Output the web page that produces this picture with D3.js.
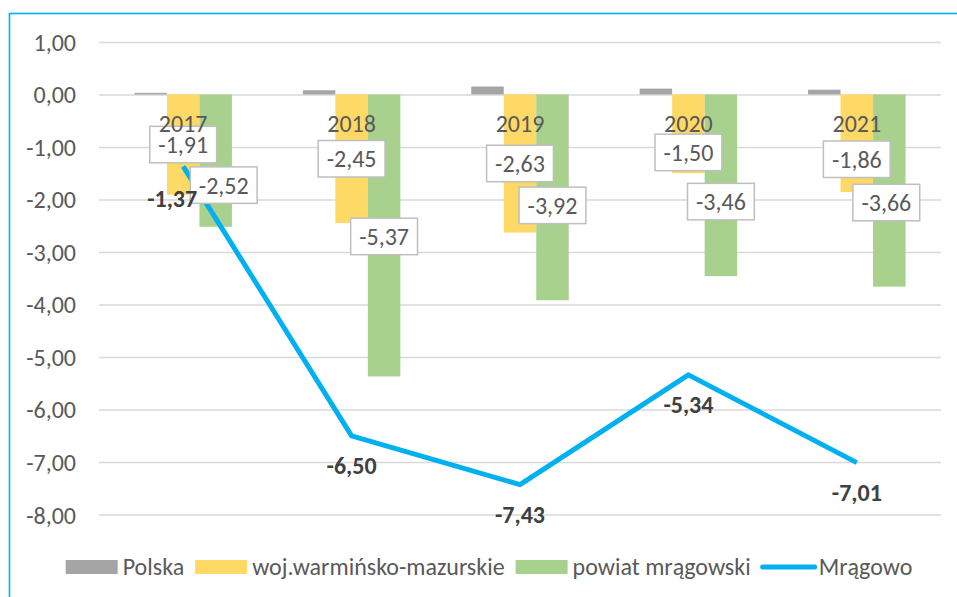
<!DOCTYPE html>
<html>
<head>
<meta charset="utf-8">
<script src="https://cdn.jsdelivr.net/npm/d3@7"></script>
<style>
  html, body { margin: 0; padding: 0; background: #fff; }
  svg { display: block; }
  text { font-family: Carlito, Lato, "Liberation Sans", sans-serif; }
</style>
</head>
<body>
<svg id="chart" width="957" height="597"></svg>
<script>
// ---------- data ----------
const categories = ["2017", "2018", "2019", "2020", "2021"];
const polska = [0.03, 0.08, 0.15, 0.11, 0.09];
const wojewodztwo = [-1.91, -2.45, -2.63, -1.50, -1.86];
const powiat = [-2.52, -5.37, -3.92, -3.46, -3.66];
const mragowo = [-1.37, -6.50, -7.43, -5.34, -7.01];
const yTicks = [1, 0, -1, -2, -3, -4, -5, -6, -7, -8];
const seriesNames = ["Polska", "woj.warmińsko-mazurskie", "powiat mrągowski", "Mrągowo"];

// label nudges (layout only, px)
const wojLabelNudge = [[0, 0], [0, 0], [0, 0], [0, 18.6], [0, 16]];
const powLabelNudge = [[8, 24.5], [0, 1], [0, 8], [0, 16.3], [-3, 12]];
const mrgLabelNudge = [[-11, 32], [0, 29.5], [0, 29.5], [0, 29.5], [0, 29.5]];

// ---------- styles ----------
const colors = { polska: "#a5a5a5", woj: "#ffd966", pow: "#a9d18e", line: "#00b0f0" };
const textColor = "#595959";
const fontSize = 24;

const svg = d3.select("#chart");

// frame
svg.append("rect")
  .attr("x", 9.5).attr("y", 13.5)
  .attr("width", 960).attr("height", 600)
  .attr("fill", "none").attr("stroke", "#00b0f0").attr("stroke-width", 1.6);

const plot = { left: 99, right: 941, top: 41.9, bottom: 514.6 };

const y = d3.scaleLinear().domain([1, -8]).range([plot.top, plot.bottom]);
const x = d3.scaleBand().domain(categories).range([plot.left, plot.right]).paddingInner(0).paddingOuter(0);
const barW = 32.5;
const keys = ["polska", "woj", "pow"];
const xs = d3.scaleBand().domain(keys).range([0, barW * 3]);
const groupOffset = (x.bandwidth() - barW * 3) / 2;

// gridlines + y axis labels
const yAxis = d3.axisLeft(y).tickValues(yTicks).tickSize(-(plot.right - plot.left))
  .tickFormat(d => d3.format(".2f")(d).replace(".", ",").replace("−", "-"));
const gy = svg.append("g").attr("transform", `translate(${plot.left},0)`).call(yAxis);
gy.select(".domain").remove();
gy.selectAll(".tick line").attr("stroke", "#d9d9d9").attr("stroke-width", 1.5);
gy.selectAll(".tick text")
  .attr("x", -23).attr("dy", "0.35em")
  .attr("fill", textColor).attr("font-size", fontSize)
  .style("font-family", 'Carlito, Lato, sans-serif');

// bars
const seriesData = { polska: polska, woj: wojewodztwo, pow: powiat };
keys.forEach(k => {
  svg.append("g").selectAll("rect")
    .data(seriesData[k])
    .join("rect")
    .attr("x", (d, i) => x(categories[i]) + groupOffset + xs(k))
    .attr("width", xs.bandwidth())
    .attr("y", d => Math.min(y(d), y(0)))
    .attr("height", d => Math.abs(y(d) - y(0)))
    .attr("fill", colors[k]);
});

// line
const cx = i => x(categories[i]) + x.bandwidth() / 2;
svg.append("path")
  .datum(mragowo)
  .attr("d", d3.line().x((d, i) => cx(i)).y(d => y(d)))
  .attr("fill", "none")
  .attr("stroke", colors.line)
  .attr("stroke-width", 5)
  .attr("stroke-linejoin", "round");

const fmt = v => d3.format(".2f")(v).replace(".", ",").replace("−", "-");

// boxed data labels
function boxedLabels(values, key, nudges) {
  const g = svg.append("g");
  values.forEach((v, i) => {
    const bx = x(categories[i]) + groupOffset + xs(key) + xs.bandwidth() / 2 + nudges[i][0];
    const by = y(v / 2) + nudges[i][1];
    const lg = g.append("g").attr("transform", `translate(${bx},${by})`);
    const rect = lg.append("rect");
    const t = lg.append("text")
      .attr("text-anchor", "middle").attr("dy", "0.35em")
      .attr("fill", textColor).attr("font-size", fontSize)
      .text(fmt(v));
    const w = t.node().getComputedTextLength() + 17;
    const h = 36.5;
    rect.attr("x", -w / 2).attr("y", -h / 2).attr("width", w).attr("height", h)
      .attr("fill", "#fff").attr("stroke", "#bfbfbf").attr("stroke-width", 1.5);
  });
}
boxedLabels(wojewodztwo, "woj", wojLabelNudge);
boxedLabels(powiat, "pow", powLabelNudge);

// category labels (drawn on top, as in the reference)
svg.append("g").selectAll("text")
  .data(categories)
  .join("text")
  .attr("x", d => x(d) + x.bandwidth() / 2)
  .attr("y", y(0) + 29)
  .attr("dy", "0.35em")
  .attr("text-anchor", "middle")
  .attr("fill", textColor)
  .attr("font-size", fontSize)
  .text(d => d);

// line labels
svg.append("g").selectAll("text")
  .data(mragowo)
  .join("text")
  .attr("x", (d, i) => cx(i) + mrgLabelNudge[i][0])
  .attr("y", (d, i) => y(d) + mrgLabelNudge[i][1])
  .attr("dy", "0.35em")
  .attr("text-anchor", "middle")
  .attr("fill", "#404040")
  .attr("font-weight", "bold")
  .attr("font-size", fontSize)
  .text(d => fmt(d));

// legend
const legend = svg.append("g");
const legendItems = [
  { name: seriesNames[0], type: "box", color: colors.polska },
  { name: seriesNames[1], type: "box", color: colors.woj },
  { name: seriesNames[2], type: "box", color: colors.pow },
  { name: seriesNames[3], type: "line", color: colors.line }
];
const legY = 567;
let lx = 0;
legendItems.forEach(it => {
  const ig = legend.append("g").attr("transform", `translate(${lx},0)`);
  if (it.type === "box") {
    ig.append("rect").attr("x", 0).attr("y", legY - 7).attr("width", 52).attr("height", 14).attr("fill", it.color);
  } else {
    ig.append("line").attr("x1", 1).attr("x2", 53).attr("y1", legY).attr("y2", legY)
      .attr("stroke", it.color).attr("stroke-width", 5).attr("stroke-linecap", "round");
  }
  const t = ig.append("text").attr("x", 57).attr("y", legY).attr("dy", "0.35em")
    .attr("fill", textColor).attr("font-size", fontSize).text(it.name);
  lx += 57 + t.node().getComputedTextLength() + 11;
});
const legW = lx - 11;
legend.attr("transform", `translate(${489 - legW / 2},0)`);
</script>
</body>
</html>
